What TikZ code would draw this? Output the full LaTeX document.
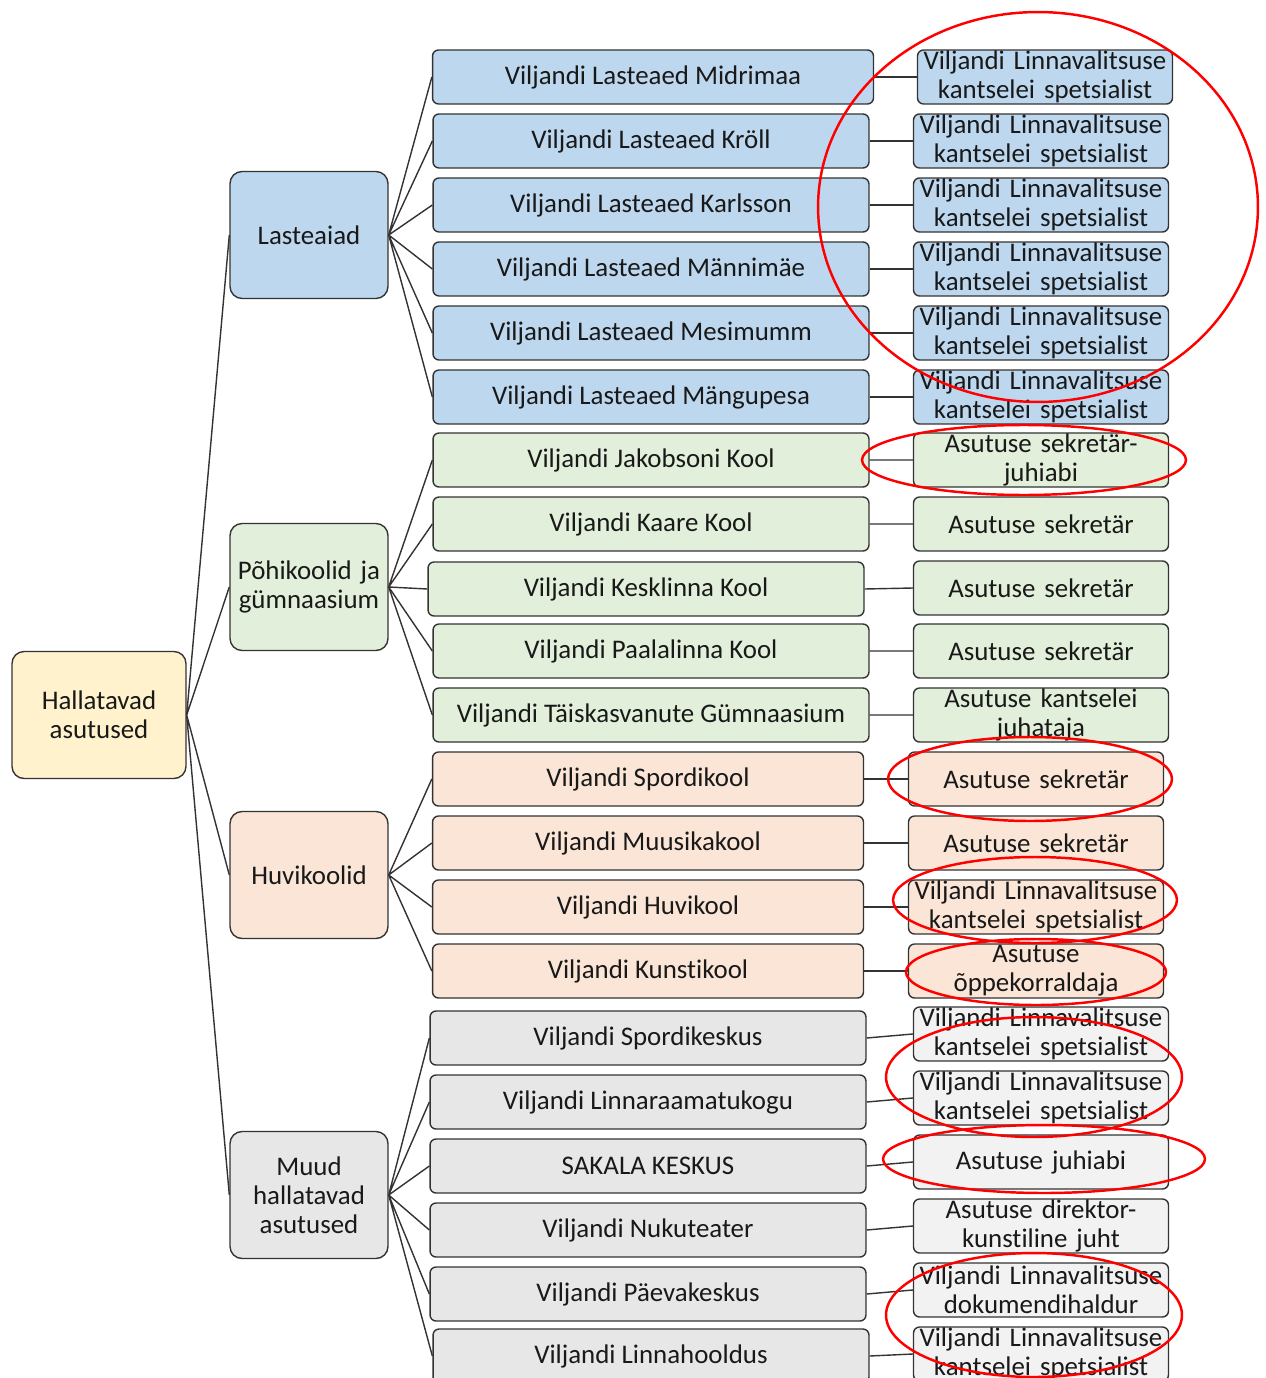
\documentclass[tikz,border=0pt]{standalone}
\usepackage{fontspec}
\setmainfont{Carlito}[Ligatures=NoCommon]
\usepackage{tikz}
\definecolor{rootfill}{HTML}{FFF2CC}
\definecolor{bluefill}{HTML}{BDD7EE}
\definecolor{greenfill}{HTML}{E2EFDA}
\definecolor{peachfill}{HTML}{FBE5D6}
\definecolor{grayfill}{HTML}{E7E7E7}
\definecolor{rolegray}{HTML}{F2F2F2}
\definecolor{edgegray}{HTML}{333333}

\begin{document}
\begin{tikzpicture}[x=0.02cm, y=-0.02cm,
  every node/.style={font=\fontsize{15.3}{16.5}\selectfont, text=black!90},
  box/.style={draw=edgegray, line width=0.8pt, align=center, inner sep=0pt},
  bigbox/.style={box, rounded corners=0.24cm, minimum width=3.16cm, minimum height=2.54cm, text width=3.1cm},
  unitbox/.style={box, rounded corners=0.12cm, minimum width=8.72cm, minimum height=1.08cm},
  rolebox/.style={box, rounded corners=0.12cm, minimum width=5.1cm, minimum height=1.08cm, text width=5.1cm},
  link/.style={draw=edgegray, line width=0.8pt},
  redring/.style={draw=red, line width=1.4pt}]
\useasboundingbox (0,0) rectangle (1265,1378);
\node[bigbox, fill=rootfill, minimum width=3.48cm, text width=3.4cm] (hallatavad) at (99,715) {Hallatavad\\asutused};
\node[bigbox, fill=bluefill] (lasteaiad) at (309,235) {Lasteaiad};
\node[bigbox, fill=greenfill] (pohikoolid) at (309,587) {Põhikoolid ja\\gümnaasium};
\node[bigbox, fill=peachfill] (huvikoolid) at (309,875) {Huvikoolid};
\node[bigbox, fill=grayfill] (muud) at (309,1195) {Muud\\hallatavad\\asutused};
\draw[link] (hallatavad.east) -- (lasteaiad.west) (hallatavad.east) -- (pohikoolid.west)
  (hallatavad.east) -- (huvikoolid.west) (hallatavad.east) -- (muud.west);
% lasteaiad
\node[unitbox, fill=bluefill, minimum width=8.82cm] (midrimaa) at (653,77) {Viljandi Lasteaed Midrimaa};
\node[unitbox, fill=bluefill] (kroll) at (651,141) {Viljandi Lasteaed Kröll};
\node[unitbox, fill=bluefill] (karlsson) at (651,205) {Viljandi Lasteaed Karlsson};
\node[unitbox, fill=bluefill] (mannimae) at (651,269) {Viljandi Lasteaed Männimäe};
\node[unitbox, fill=bluefill] (mesimumm) at (651,333) {Viljandi Lasteaed Mesimumm};
\node[unitbox, fill=bluefill] (mangupesa) at (651,397) {Viljandi Lasteaed Mängupesa};
\node[rolebox, fill=bluefill] (amet-midrimaa) at (1045,77) {Viljandi Linnavalitsuse\\kantselei spetsialist};
\node[rolebox, fill=bluefill] (amet-kroll) at (1041,141) {Viljandi Linnavalitsuse\\kantselei spetsialist};
\node[rolebox, fill=bluefill] (amet-karlsson) at (1041,205) {Viljandi Linnavalitsuse\\kantselei spetsialist};
\node[rolebox, fill=bluefill] (amet-mannimae) at (1041,269) {Viljandi Linnavalitsuse\\kantselei spetsialist};
\node[rolebox, fill=bluefill] (amet-mesimumm) at (1041,333) {Viljandi Linnavalitsuse\\kantselei spetsialist};
\node[rolebox, fill=bluefill] (amet-mangupesa) at (1041,397) {Viljandi Linnavalitsuse\\kantselei spetsialist};
\draw[link] (lasteaiad.east) -- (midrimaa.west) (lasteaiad.east) -- (kroll.west)
  (lasteaiad.east) -- (karlsson.west) (lasteaiad.east) -- (mannimae.west)
  (lasteaiad.east) -- (mesimumm.west) (lasteaiad.east) -- (mangupesa.west);
\draw[link] (midrimaa) -- (amet-midrimaa) (kroll) -- (amet-kroll) (karlsson) -- (amet-karlsson)
  (mannimae) -- (amet-mannimae) (mesimumm) -- (amet-mesimumm) (mangupesa) -- (amet-mangupesa);
% pohikoolid ja gumnaasium
\node[unitbox, fill=greenfill] (jakobsoni) at (651,460) {Viljandi Jakobsoni Kool};
\node[unitbox, fill=greenfill] (kaare) at (651,524) {Viljandi Kaare Kool};
\node[unitbox, fill=greenfill] (kesklinna) at (646,589) {Viljandi Kesklinna Kool};
\node[unitbox, fill=greenfill] (paalalinna) at (651,651) {Viljandi Paalalinna Kool};
\node[unitbox, fill=greenfill] (taiskasvanute) at (651,715) {Viljandi Täiskasvanute Gümnaasium};
\node[rolebox, fill=greenfill] (amet-jakobsoni) at (1041,460) {Asutuse sekretär-\\juhiabi};
\node[rolebox, fill=greenfill] (amet-kaare) at (1041,524) {Asutuse sekretär};
\node[rolebox, fill=greenfill] (amet-kesklinna) at (1041,588) {Asutuse sekretär};
\node[rolebox, fill=greenfill] (amet-paalalinna) at (1041,651) {Asutuse sekretär};
\node[rolebox, fill=greenfill] (amet-taiskasvanute) at (1041,715) {Asutuse kantselei\\juhataja};
\draw[link] (pohikoolid.east) -- (jakobsoni.west) (pohikoolid.east) -- (kaare.west)
  (pohikoolid.east) -- (kesklinna.west) (pohikoolid.east) -- (paalalinna.west)
  (pohikoolid.east) -- (taiskasvanute.west);
\draw[link] (jakobsoni) -- (amet-jakobsoni) (kaare) -- (amet-kaare) (kesklinna.east) -- (amet-kesklinna.west)
  (paalalinna) -- (amet-paalalinna) (taiskasvanute) -- (amet-taiskasvanute);
% huvikoolid
\node[unitbox, fill=peachfill, minimum width=8.62cm] (spordikool) at (648,779) {Viljandi Spordikool};
\node[unitbox, fill=peachfill, minimum width=8.62cm] (muusikakool) at (648,843) {Viljandi Muusikakool};
\node[unitbox, fill=peachfill, minimum width=8.62cm] (huvikool) at (648,907) {Viljandi Huvikool};
\node[unitbox, fill=peachfill, minimum width=8.62cm] (kunstikool) at (648,971) {Viljandi Kunstikool};
\node[rolebox, fill=peachfill] (amet-spordikool) at (1036,779) {Asutuse sekretär};
\node[rolebox, fill=peachfill] (amet-muusikakool) at (1036,843) {Asutuse sekretär};
\node[rolebox, fill=peachfill] (amet-huvikool) at (1036,907) {Viljandi Linnavalitsuse\\kantselei spetsialist};
\node[rolebox, fill=peachfill] (amet-kunstikool) at (1036,971) {Asutuse\\õppekorraldaja};
\draw[link] (huvikoolid.east) -- (spordikool.west) (huvikoolid.east) -- (muusikakool.west)
  (huvikoolid.east) -- (huvikool.west) (huvikoolid.east) -- (kunstikool.west);
\draw[link] (spordikool) -- (amet-spordikool) (muusikakool) -- (amet-muusikakool)
  (huvikool) -- (amet-huvikool) (kunstikool) -- (amet-kunstikool);
% muud hallatavad asutused
\node[unitbox, fill=grayfill] (spordikeskus) at (648,1038) {Viljandi Spordikeskus};
\node[unitbox, fill=grayfill] (raamatukogu) at (648,1102) {Viljandi Linnaraamatukogu};
\node[unitbox, fill=grayfill] (sakala) at (648,1166) {SAKALA KESKUS};
\node[unitbox, fill=grayfill] (nukuteater) at (648,1230) {Viljandi Nukuteater};
\node[unitbox, fill=grayfill] (paevakeskus) at (648,1294) {Viljandi Päevakeskus};
\node[unitbox, fill=grayfill] (linnahooldus) at (651,1356) {Viljandi Linnahooldus};
\node[rolebox, fill=rolegray] (amet-spordikeskus) at (1041,1034) {Viljandi Linnavalitsuse\\kantselei spetsialist};
\node[rolebox, fill=rolegray] (amet-raamatukogu) at (1041,1098) {Viljandi Linnavalitsuse\\kantselei spetsialist};
\node[rolebox, fill=rolegray] (amet-sakala) at (1041,1162) {Asutuse juhiabi};
\node[rolebox, fill=rolegray] (amet-nukuteater) at (1041,1226) {Asutuse direktor-\\kunstiline juht};
\node[rolebox, fill=rolegray] (amet-paevakeskus) at (1041,1290) {Viljandi Linnavalitsuse\\dokumendihaldur};
\node[rolebox, fill=rolegray] (amet-linnahooldus) at (1041,1354) {Viljandi Linnavalitsuse\\kantselei spetsialist};
\draw[link] (muud.east) -- (spordikeskus.west) (muud.east) -- (raamatukogu.west)
  (muud.east) -- (sakala.west) (muud.east) -- (nukuteater.west)
  (muud.east) -- (paevakeskus.west) (muud.east) -- (linnahooldus.west);
\draw[link] (spordikeskus.east) -- (amet-spordikeskus.west) (raamatukogu.east) -- (amet-raamatukogu.west)
  (sakala.east) -- (amet-sakala.west) (nukuteater.east) -- (amet-nukuteater.west)
  (paevakeskus.east) -- (amet-paevakeskus.west) (linnahooldus.east) -- (amet-linnahooldus.west);
% red markings
\draw[redring] (1038,207) ellipse [x radius=4.4cm, y radius=3.9cm];
\draw[redring] (1024,460) ellipse [x radius=3.24cm, y radius=0.7cm];
\draw[redring] (1030,779) ellipse [x radius=2.84cm, y radius=0.84cm];
\draw[redring] (1035,900) ellipse [x radius=2.84cm, y radius=0.86cm];
\draw[redring] (1036,972) ellipse [x radius=2.6cm, y radius=0.66cm];
\draw[redring] (1034,1077) ellipse [x radius=2.96cm, y radius=1.2cm];
\draw[redring] (1044,1159) ellipse [x radius=3.22cm, y radius=0.68cm];
\draw[redring] (1034,1315) ellipse [x radius=2.96cm, y radius=1.24cm];
\end{tikzpicture}
\end{document}
